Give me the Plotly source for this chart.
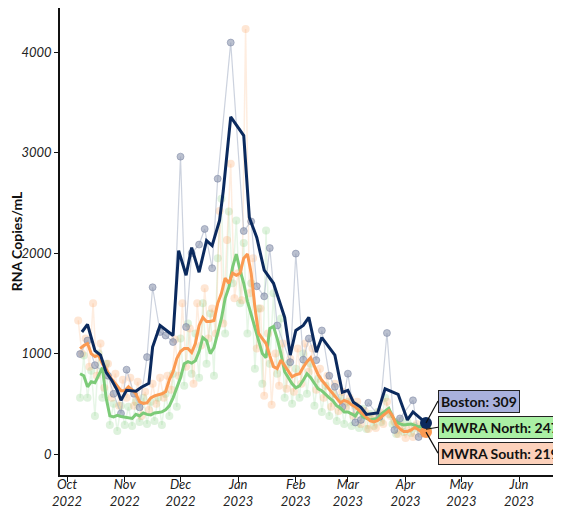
import pandas as pd
import plotly.graph_objects as go

# ---- Data ----
boston_raw_dates = ["2022-10-08","2022-10-12","2022-10-16","2022-10-23","2022-10-26","2022-10-30",
    "2022-11-02","2022-11-06","2022-11-09","2022-11-13","2022-11-16","2022-11-20","2022-11-23",
    "2022-11-27","2022-12-01","2022-12-04","2022-12-07","2022-12-11","2022-12-14","2022-12-18",
    "2022-12-21","2022-12-28","2023-01-04","2023-01-08","2023-01-11","2023-01-15","2023-01-18",
    "2023-01-22","2023-01-29","2023-02-01","2023-02-05","2023-02-08","2023-02-12","2023-02-15",
    "2023-02-19","2023-02-22","2023-02-26","2023-03-01","2023-03-05","2023-03-08","2023-03-12",
    "2023-03-18","2023-03-22","2023-03-26","2023-03-29","2023-04-05","2023-04-08"]
boston_raw = [995,1130,885,780,600,405,
    840,600,465,965,1660,1215,1180,
    1115,2960,1265,2000,2085,2240,1850,
    2740,4095,2220,2315,1670,1570,2050,
    1280,915,1995,940,1150,935,1230,
    780,670,470,800,315,340,510,
    370,1205,240,355,535,170]

boston_dates = ["2022-10-09","2022-10-12","2022-10-16","2022-10-19","2022-10-22","2022-10-25",
    "2022-10-28","2022-10-30","2022-11-02","2022-11-07","2022-11-10","2022-11-14","2022-11-16",
    "2022-11-20","2022-11-27","2022-11-30","2022-12-04","2022-12-07","2022-12-11","2022-12-15",
    "2022-12-18","2022-12-22","2022-12-24","2022-12-28","2023-01-04","2023-01-07","2023-01-11",
    "2023-01-15","2023-01-20","2023-01-26","2023-01-29","2023-02-01","2023-02-05","2023-02-08",
    "2023-02-12","2023-02-15","2023-02-22","2023-02-26","2023-03-01","2023-03-04","2023-03-08",
    "2023-03-11","2023-03-17","2023-03-21","2023-03-28","2023-04-02","2023-04-05","2023-04-08",
    "2023-04-12"]
boston_avg = [1215,1290,1030,985,815,735,
    635,535,635,625,665,705,1065,
    1280,1180,2025,1780,2055,1810,2125,
    2075,2325,2620,3355,3170,2355,2155,
    1830,1700,1360,985,1230,1280,1360,
    1015,1160,985,615,635,515,465,
    395,410,650,595,340,420,370,
    309]

# MWRA smoothed, every 2 days from 2022-10-08
mwra_start = "2022-10-08"
south_avg = [1050,1080,1100,1000,970,985,900,850,770,720,675,630,630,670,640,600,520,505,510,560,
    580,590,600,620,740,820,950,1020,1050,1050,1010,1100,1280,1360,1320,1320,1330,1500,1600,1750,
    1700,1800,1780,1800,1950,1990,1800,1460,1200,1150,1100,980,870,850,935,880,830,770,790,800,
    865,920,960,880,790,735,690,640,600,560,510,535,520,490,470,435,400,370,330,320,
    335,370,400,430,380,290,250,225,225,240,265,240,220,219]
north_avg = [800,780,670,720,710,780,860,560,380,370,385,375,370,365,355,395,380,410,395,390,
    410,415,420,440,480,560,660,760,900,920,905,930,1020,1160,1130,1000,1060,1200,1350,1550,
    1660,1860,1990,1830,1700,1520,1400,1260,1130,1000,960,1250,1270,1150,1000,820,760,700,660,680,
    735,800,760,700,650,630,590,560,530,480,460,420,420,400,380,435,370,355,340,350,
    355,400,430,455,370,320,300,290,295,300,285,270,280,247]

# MWRA raw samples, every 2 days
south_raw_start = "2022-10-07"
south_raw = [1330,1000,1150,870,1500,780,1100,660,900,560,800,480,740,560,760,480,720,380,620,440,
    700,500,760,560,780,640,1140,780,1500,870,1250,700,1500,1080,1650,1150,1450,1200,2420,1300,
    2130,2890,1550,1800,1530,4230,1600,1950,1050,1450,580,1200,490,1000,680,1100,650,950,620,1050,
    700,1100,820,1050,640,850,560,780,470,700,430,620,470,560,380,520,300,430,250,380,
    260,420,300,520,380,320,200,280,160,250,170,300,200,230]
north_raw_start = "2022-10-08"
north_raw = [560,980,560,830,380,1000,560,900,290,500,230,480,290,470,280,520,320,560,300,520,
    330,560,290,600,380,800,470,1150,680,1300,800,1200,760,1500,900,1400,780,1950,2540,1200,
    2415,1700,2325,1500,2100,1200,1700,850,1450,700,2225,900,1600,800,1350,560,900,500,850,560,
    1000,600,900,480,750,420,680,380,600,330,560,300,520,280,480,260,450,250,400,280,
    420,320,560,400,300,200,330,220,320,210,280,250,270]

tick_vals = ["2022-10-01","2022-11-01","2022-12-01","2023-01-01","2023-02-01","2023-03-01",
             "2023-04-01","2023-05-01","2023-06-01"]
tick_text = ["Oct<br>2022","Nov<br>2022","Dec<br>2022","Jan<br>2023","Feb<br>2023","Mar<br>2023",
             "Apr<br>2023","May<br>2023","Jun<br>2023"]
y_ticks = [0, 1000, 2000, 3000, 4000]

NAVY = "#0b2a5e"
ORANGE = "#fb9a52"
GREEN = "#7ccb78"

mwra_dates = pd.date_range(mwra_start, periods=len(south_avg), freq="2D")
south_raw_dates = pd.date_range(south_raw_start, periods=len(south_raw), freq="2D")
north_raw_dates = pd.date_range(north_raw_start, periods=len(north_raw), freq="2D")

fig = go.Figure()
fig.add_trace(go.Scatter(x=north_raw_dates, y=north_raw, mode="lines+markers",
    line=dict(color="rgba(124,203,120,0.18)", width=1.5),
    marker=dict(size=8, color="rgba(124,203,120,0.25)"), hoverinfo="skip"))
fig.add_trace(go.Scatter(x=south_raw_dates, y=south_raw, mode="lines+markers",
    line=dict(color="rgba(251,154,82,0.18)", width=1.5),
    marker=dict(size=8, color="rgba(251,154,82,0.25)"), hoverinfo="skip"))
fig.add_trace(go.Scatter(x=boston_raw_dates, y=boston_raw, mode="lines+markers",
    line=dict(color="rgba(170,180,200,0.6)", width=1.2),
    marker=dict(size=7, color="rgba(140,150,175,0.6)", line=dict(color="rgba(120,130,160,0.5)", width=1)),
    hoverinfo="skip"))
fig.add_trace(go.Scatter(x=mwra_dates, y=north_avg, mode="lines",
    line=dict(color=GREEN, width=3)))
fig.add_trace(go.Scatter(x=mwra_dates, y=south_avg, mode="lines",
    line=dict(color=ORANGE, width=3)))
fig.add_trace(go.Scatter(x=boston_dates, y=boston_avg, mode="lines",
    line=dict(color=NAVY, width=3)))
# end markers
fig.add_trace(go.Scatter(x=[mwra_dates[-1]], y=[north_avg[-1]], mode="markers",
    marker=dict(size=11, color=GREEN)))
fig.add_trace(go.Scatter(x=[mwra_dates[-1]], y=[south_avg[-1]], mode="markers",
    marker=dict(size=12, color=ORANGE)))
fig.add_trace(go.Scatter(x=[boston_dates[-1]], y=[boston_avg[-1]], mode="markers",
    marker=dict(size=12, color=NAVY)))

labels = [
    (boston_dates[-1], boston_avg[-1], f"Boston: {boston_avg[-1]}", "#a9b1dd", -22),
    (mwra_dates[-1], north_avg[-1], f"MWRA North: {north_avg[-1]}", "#aaf0a4", -2),
    (mwra_dates[-1], south_avg[-1], f"MWRA South: {south_avg[-1]}", "#fcd1bb", 21),
]
for x, y, txt, bg, ay in labels:
    fig.add_annotation(x=x, y=y, text=f"<b>{txt}</b>", showarrow=True, arrowhead=0,
        arrowwidth=1.2, arrowcolor="#111", ax=12, ay=ay, xanchor="left", yanchor="middle",
        bgcolor=bg, bordercolor="#222", borderwidth=1, borderpad=2,
        font=dict(family="Lato", size=14, color="#111"))

# page body has an 8px default margin; size the figure to compensate
fig.update_layout(
    width=553, height=501, showlegend=False,
    paper_bgcolor="white", plot_bgcolor="white",
    margin=dict(l=52, r=0, t=0, b=34),
    font=dict(family="Lato", color="#222"),
)
fig.update_xaxes(range=["2022-09-27 05:00", "2023-06-23 14:00"], tickvals=tick_vals,
    ticktext=[f"<i>{t}</i>" for t in tick_text],
    showline=True, linecolor="#111", linewidth=1.5, ticks="outside", ticklen=5, tickcolor="#111",
    showgrid=False, zeroline=False, automargin=False, ticklabelstandoff=-8,
    tickfont=dict(family="Lato", size=13, color="#222"))
fig.update_yaxes(range=[-208, 4439], tickvals=y_ticks, ticktext=[f"<i>{v}</i>" for v in y_ticks],
    showline=True, linecolor="#111", linewidth=1.5,
    ticks="outside", ticklen=4, tickcolor="#111", showgrid=False, zeroline=False, automargin=False,
    tickfont=dict(family="Lato", size=13, color="#222"),
    title=dict(text="<b>RNA Copies/mL</b>", font=dict(family="Lato", size=14, color="#111"), standoff=6))

fig.write_html("out.html")
